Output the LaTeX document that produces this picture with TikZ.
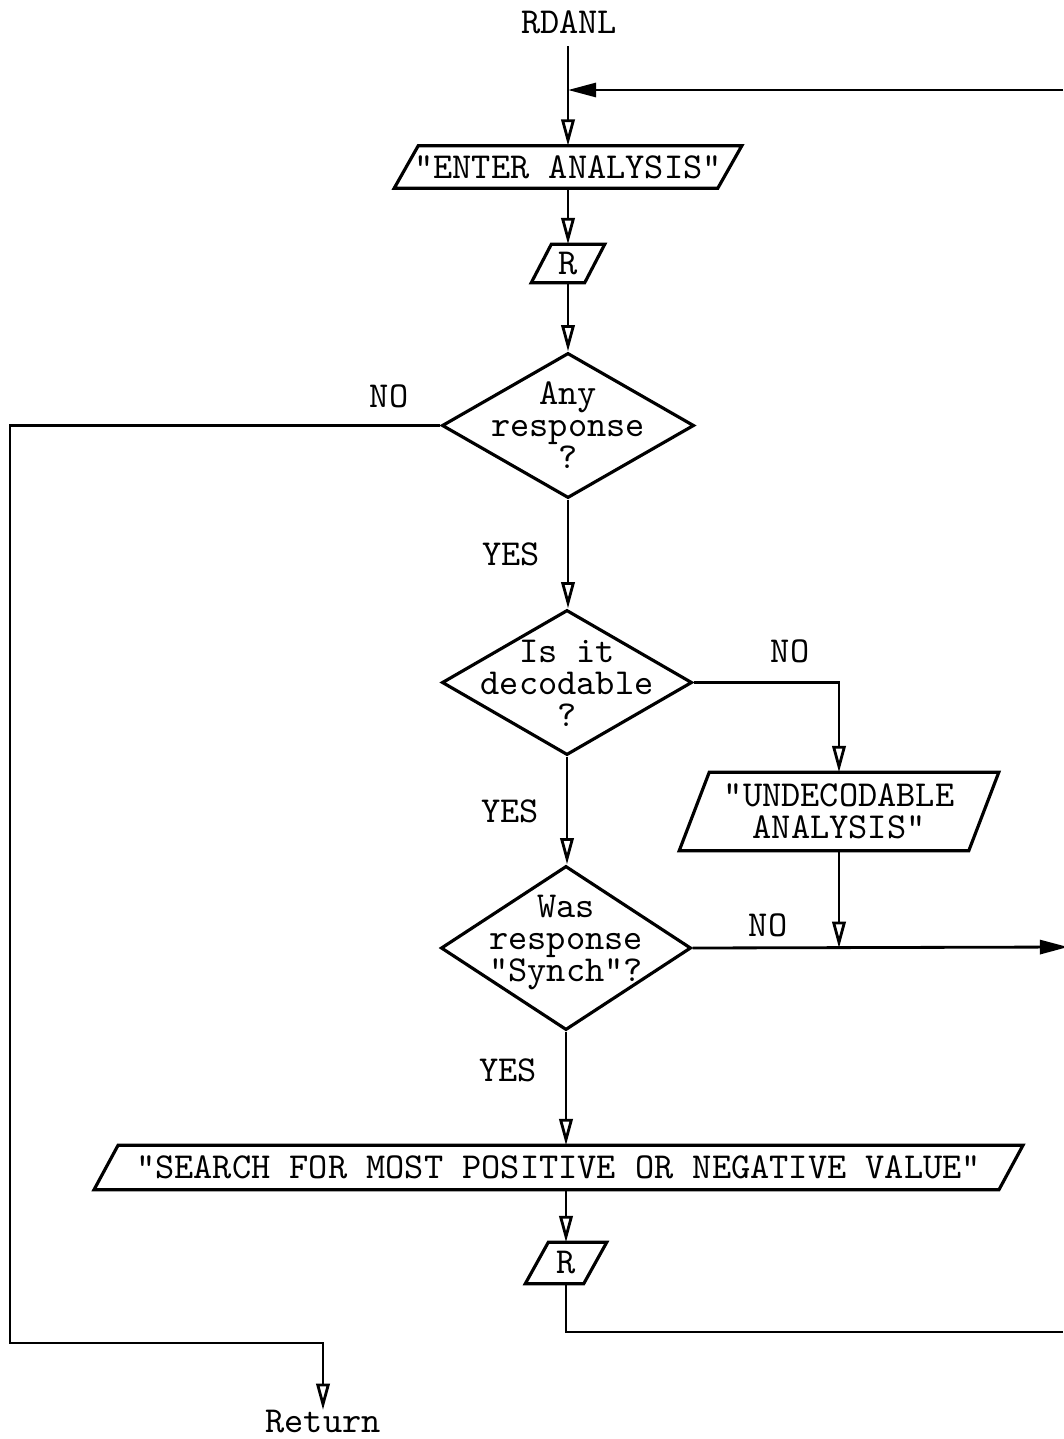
\documentclass[tikz,border=0pt]{standalone}
\usetikzlibrary{shapes.geometric,arrows.meta}

% parallelogram frame around a rectangular node: #1 node name, #2 slant
\newcommand\ioframe[2]{%
  \draw[shapeline] ([xshift=#2]#1.north west) -- (#1.north east)
    -- ([xshift=-#2]#1.south east) -- (#1.south west) -- cycle;}
% typewriter text with fixed, tight line spacing
\newcommand\typefont{\fontsize{10.4}{9.1}\selectfont\ttfamily\lineskiplimit=-10pt\relax}

\begin{document}
\begin{tikzpicture}[x=0.01cm,y=-0.01cm,
  txt/.style={font=\typefont, align=center, inner sep=0pt},
  shapeline/.style={line width=0.9pt},
  decision/.style={draw, shapeline, shape=diamond, inner sep=0pt},
  iobox/.style={txt, minimum width=#1},
  flow/.style={line width=0.8pt},
  into/.style={flow, -{Triangle[open, length=7.5pt, width=3.8pt, line width=0.8pt]}},
  outto/.style={flow, -{Triangle[length=8pt, width=4pt]}}]

\useasboundingbox (0,0) rectangle (1063,1439);

% entry and return labels
\node[txt] (rdanl) at (569,22) {RDANL};
\node[txt] (ret) at (323,1422) {Return};

% input / output boxes
\node[iobox=3.46cm, minimum height=0.41cm] (enter) at (568,167) {"ENTER ANALYSIS"};
\ioframe{enter}{0.24cm}
\node[iobox=0.72cm, minimum height=0.37cm] (r1) at (568,263.5) {R};
\ioframe{r1}{0.2cm}
\node[iobox=3.18cm, minimum height=0.77cm] (und) at (839,811.5) {"UNDECODABLE\\ANALYSIS"};
\ioframe{und}{0.3cm}
\node[iobox=9.27cm, minimum height=0.43cm] (search) at (558.5,1167.5)
  {"SEARCH FOR MOST POSITIVE OR NEGATIVE VALUE"};
\ioframe{search}{0.24cm}
\node[iobox=0.80cm, minimum height=0.40cm] (r2) at (566,1263) {R};
\ioframe{r2}{0.23cm}

% decisions
\node[decision, minimum width=2.52cm, minimum height=1.45cm] (d1) at (568,425.5) {};
\node[txt] (t1) at (568,425) {Any\\response\\?};
\node[decision, minimum width=2.50cm, minimum height=1.45cm] (d2) at (567,682.5) {};
\node[txt] (t2) at (567,683) {Is it\\decodable\\?};
\node[decision, minimum width=2.50cm, minimum height=1.64cm] (d3) at (566,948) {};
\node[txt] (t3) at (566,942) {Was\\response\\"Synch"?};

% branch labels
\node[txt] (no1) at (389,396) {NO};
\node[txt] (yes1) at (511,554) {YES};
\node[txt] (no2) at (790,651) {NO};
\node[txt] (yes2) at (510,811) {YES};
\node[txt] (no3) at (768,925) {NO};
\node[txt] (yes3) at (508,1070) {YES};

% loop junctions and off-page ends
\coordinate (j) at (568,90);
\coordinate (loopin) at (1063,90);
\coordinate (loopout) at (1068,947);
\coordinate (loopback) at (1063,1332);
\coordinate (lc) at (10,1343);

% connectors
\draw[flow] ([yshift=-0.12cm]rdanl.south -| j) -- (j);
\draw[outto] (loopin) -- (j);
\draw[into] (j) -- (enter.north);
\draw[into] (enter.south) -- (enter.south |- r1.north);
\draw[into] (r1.south) -- (r1.south |- d1.north);
\draw[into] (d1.west) -| (lc) -| (ret.north);
\draw[into] (d1.south) -- (d1.south |- d2.north);
\draw[into] (d2.east) -| (und.north);
\draw[into] (d2.south) -- (d2.south |- d3.north);
\draw[into] (und.south) -- (und.south |- d3.east);
\draw[outto] (d3.east) -- (loopout);
\draw[into] (d3.south) -- (d3.south |- search.north);
\draw[into] (search.south -| r2.north) -- (r2.north);
\draw[flow] (r2.south) |- (loopback);
\end{tikzpicture}
\end{document}
